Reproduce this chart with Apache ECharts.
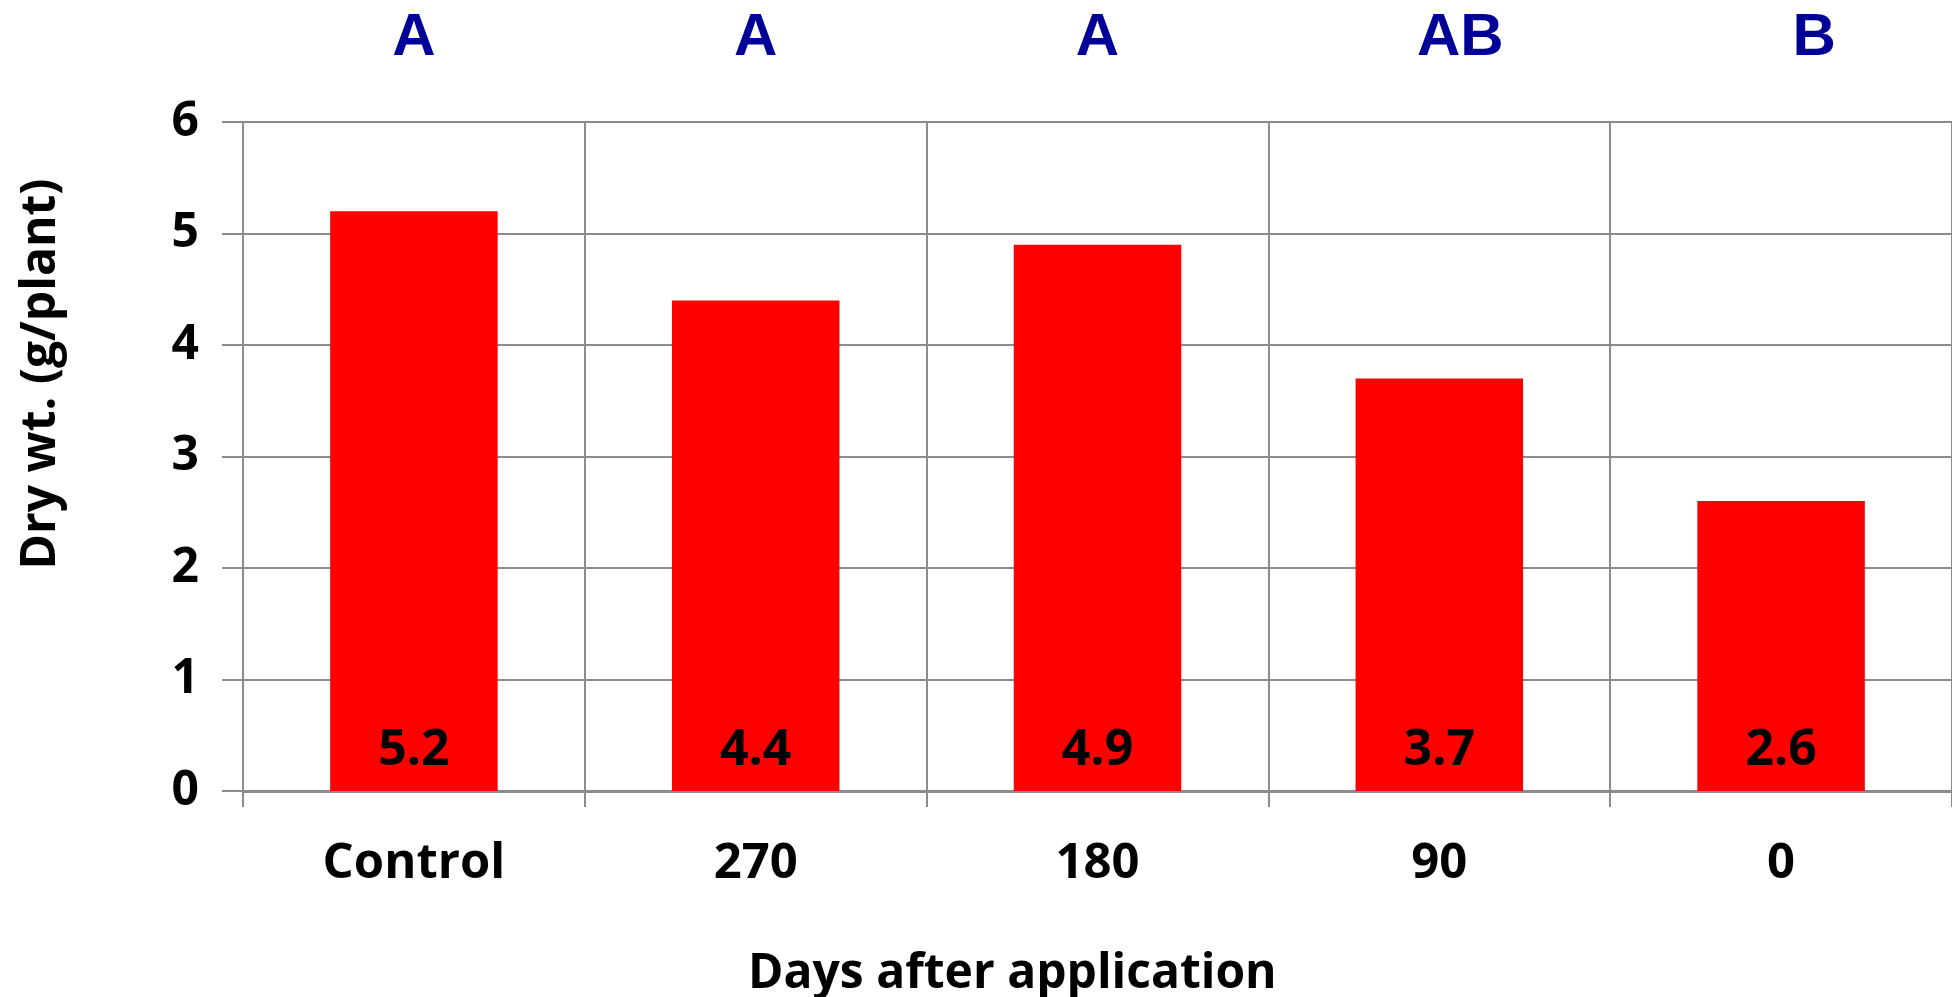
<!DOCTYPE html>
<html>
<head>
<meta charset="utf-8">
<script src="https://cdn.jsdelivr.net/npm/echarts@6/dist/echarts.min.js"></script>
<style>html,body{margin:0;padding:0;background:#fff;}#c{width:1952px;height:997px;}</style>
</head>
<body>
<div id="c"></div>
<script>
var categories = ['Control', '270', '180', '90', '0'];
var dryWeight = [5.2, 4.4, 4.9, 3.7, 2.6];
var groupLetters = ['A', 'A', 'A', 'AB', 'B'];
var yTicks = [0, 1, 2, 3, 4, 5, 6];
var xTitle = 'Days after application';
var yTitle = 'Dry wt. (g/plant)';

var FONT = 'Open Sans';
var gridColor = '#8c8c8c';
var letterShift = [0, 0, 0, 42, 66];

var chart = echarts.init(document.getElementById('c'), null, {renderer: 'canvas'});
chart.setOption({
  backgroundColor: '#ffffff',
  animation: false,
  grid: {left: 243, right: 0, top: 122, bottom: 206, containLabel: false},
  xAxis: [{
    type: 'category',
    data: categories,
    position: 'bottom',
    axisLine: {show: true, lineStyle: {color: gridColor, width: 3}},
    axisTick: {show: true, length: 16, alignWithLabel: false, lineStyle: {color: gridColor, width: 2}},
    splitLine: {show: true, lineStyle: {color: gridColor, width: 2}},
    axisLabel: {margin: 49, color: '#000', fontFamily: FONT, fontWeight: 'bold', fontSize: 49}
  }, {
    type: 'category',
    data: groupLetters.map(function (l, i) {
      return {value: l, textStyle: {padding: [0, 0, 0, letterShift[i]]}};
    }),
    position: 'top',
    axisLine: {show: false},
    axisTick: {show: false},
    splitLine: {show: false},
    axisLabel: {margin: 54, color: '#000099', fontFamily: 'Liberation Sans', fontWeight: 'bold', fontSize: 60}
  }],
  yAxis: {
    type: 'value',
    min: yTicks[0],
    max: yTicks[yTicks.length - 1],
    interval: 1,
    axisLine: {show: true, lineStyle: {color: gridColor, width: 2}},
    axisTick: {show: true, length: 21, lineStyle: {color: gridColor, width: 2}},
    splitLine: {show: true, lineStyle: {color: gridColor, width: 2}},
    axisLabel: {margin: 44, color: '#000', fontFamily: FONT, fontWeight: 'bold', fontSize: 48}
  },
  series: [{
    type: 'bar',
    data: dryWeight,
    xAxisIndex: 0,
    barWidth: '49%',
    itemStyle: {color: '#ff0000'},
    label: {
      show: true,
      position: 'insideBottom',
      distance: 15,
      color: '#000',
      fontFamily: FONT,
      fontWeight: 'bold',
      fontSize: 50,
      formatter: function (p) { return p.value.toFixed(1); }
    }
  }],
  graphic: [{
    type: 'text',
    left: 748, top: 950,
    style: {text: xTitle, fill: '#000', font: 'bold 48px "' + FONT + '"'}
  }, {
    type: 'text',
    x: 41, y: 374,
    rotation: Math.PI / 2,
    style: {text: yTitle, fill: '#000', font: 'bold 48px "' + FONT + '"', align: 'center', verticalAlign: 'middle'}
  }]
});
</script>
</body>
</html>
